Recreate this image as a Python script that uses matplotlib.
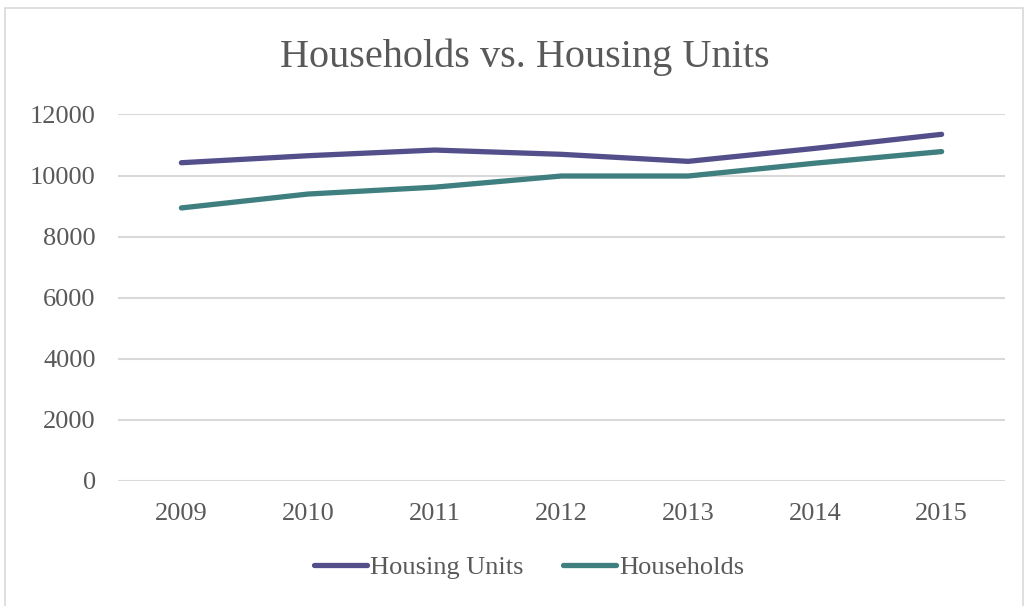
import matplotlib
matplotlib.use("Agg")
import matplotlib.pyplot as plt
from matplotlib.patches import Rectangle

# data
years = ["2009", "2010", "2011", "2012", "2013", "2014", "2015"]
housing_units = [10420, 10650, 10835, 10695, 10465, 10890, 11350]
households = [8940, 9395, 9620, 9985, 9985, 10405, 10785]
y_ticks = [0, 2000, 4000, 6000, 8000, 10000, 12000]

text_col = "#595959"
plt.rcParams["font.family"] = ["Liberation Serif", "DejaVu Serif"]

fig = plt.figure(figsize=(10.28, 6.06), dpi=100)
ax = fig.add_axes([0.1148, 0.2063, 0.8628, 0.6048])

# light frame round the chart area
fig.patches.append(Rectangle((0.005, -0.01), 0.99, 0.997, transform=fig.transFigure,
                             fill=False, edgecolor="#d9d9d9", linewidth=1.2))

x = range(len(years))
ax.plot(x, housing_units, color="#534f8a", linewidth=3.8, solid_capstyle="round",
        label="Housing Units")
ax.plot(x, households, color="#3f7f7f", linewidth=3.8, solid_capstyle="round",
        label="Households")

ax.set_xlim(-0.5, len(years) - 0.5)
ax.set_ylim(0, 12000)
ax.set_yticks(y_ticks)
ax.set_yticklabels([str(v) for v in y_ticks])
ax.set_xticks(list(x))
ax.set_xticklabels(years)
ax.yaxis.grid(True, color="#d9d9d9", linewidth=1.5)
ax.set_axisbelow(True)
for s in ax.spines.values():
    s.set_visible(False)
ax.tick_params(length=0, labelsize=19, colors=text_col)
ax.tick_params(axis="y", pad=16)
ax.tick_params(axis="x", pad=16)

fig.text(0.511, 0.905, "Households vs. Housing Units", ha="center", va="center",
         fontsize=29, color=text_col)

leg = fig.legend(loc="center", bbox_to_anchor=(0.515, 0.064), ncol=2, frameon=False,
                 fontsize=19, handlelength=2.0, handletextpad=0.12, columnspacing=1.5)
for t in leg.get_texts():
    t.set_color(text_col)

fig.savefig("out.png", dpi=100)
